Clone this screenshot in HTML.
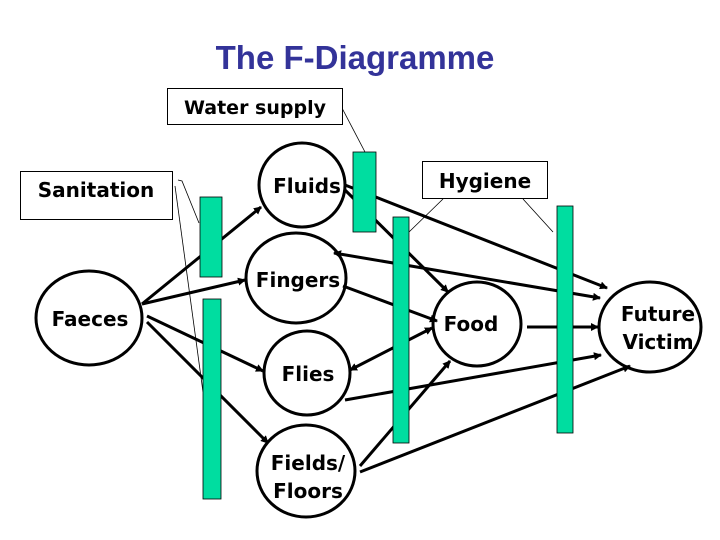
<!DOCTYPE html>
<html><head><meta charset="utf-8"><style>
html,body{margin:0;padding:0;background:#fff;}
svg{display:block;}
text{font-family:"DejaVu Sans","Liberation Sans",sans-serif;font-weight:bold;}
</style></head><body>
<svg width="720" height="540" viewBox="0 0 720 540" xmlns="http://www.w3.org/2000/svg">
<defs>
<marker id="a" markerWidth="8" markerHeight="8" refX="7" refY="4" orient="auto" markerUnits="userSpaceOnUse">
<path d="M0,0 L8,4 L0,8 z" fill="#000"/></marker>
<marker id="b" markerWidth="8" markerHeight="8" refX="1" refY="4" orient="auto" markerUnits="userSpaceOnUse">
<path d="M8,0 L0,4 L8,8 z" fill="#000"/></marker>
</defs>
<text x="355" y="69" text-anchor="middle" font-size="33" fill="#333399" style="font-family:'Liberation Sans',sans-serif">The F-Diagramme</text>

<!-- thin lines -->
<g stroke="#000" stroke-width="0.8" fill="none">
<line x1="342" y1="108" x2="365" y2="152"/>
<polyline points="178,180 182,181 199,223"/>
<line x1="175" y1="186" x2="203" y2="392"/>
<line x1="443" y1="199" x2="409" y2="232"/>
<line x1="523" y1="199" x2="553" y2="232"/>
</g>

<!-- boxes -->
<g fill="#fff" stroke="#000" stroke-width="1">
<rect x="167.5" y="88.5" width="175" height="36"/>
<rect x="20.5" y="171.5" width="152" height="48"/>
<rect x="422.5" y="161.5" width="125" height="37"/>
</g>
<text x="255" y="114" text-anchor="middle" font-size="19">Water supply</text>
<text x="96" y="197" text-anchor="middle" font-size="20">Sanitation</text>
<text x="485" y="188" text-anchor="middle" font-size="20">Hygiene</text>

<!-- arrows -->
<g stroke="#000" stroke-width="3" fill="none">
<line x1="142" y1="304" x2="261" y2="207" marker-end="url(#a)"/>
<line x1="142" y1="304" x2="245" y2="280" marker-end="url(#a)"/>
<line x1="147" y1="316" x2="263" y2="371" marker-end="url(#a)"/>
<line x1="147" y1="322" x2="268" y2="443" marker-end="url(#a)"/>
<line x1="345" y1="190" x2="448" y2="292" marker-end="url(#a)"/>
<line x1="345" y1="185" x2="607" y2="288" marker-end="url(#a)"/>
<line x1="334" y1="253" x2="600" y2="298" marker-start="url(#b)" marker-end="url(#a)"/>
<line x1="343" y1="286" x2="437" y2="321" marker-end="url(#a)"/>
<line x1="350" y1="370" x2="432" y2="328" marker-start="url(#b)" marker-end="url(#a)"/>
<line x1="345" y1="400" x2="601" y2="355" marker-end="url(#a)"/>
<line x1="360" y1="466" x2="450" y2="361" marker-end="url(#a)"/>
<line x1="360" y1="472" x2="630" y2="366" marker-end="url(#a)"/>
<line x1="527" y1="327" x2="598" y2="327" marker-end="url(#a)"/>
</g>

<!-- green bars -->
<g fill="#00DDA0" stroke="#000" stroke-width="0.8">
<rect x="200" y="197" width="22" height="80"/>
<rect x="203" y="299" width="18" height="200"/>
<rect x="353" y="152" width="23" height="80"/>
<rect x="393" y="217" width="16" height="226"/>
<rect x="557" y="206" width="16" height="227"/>
</g>

<!-- circles -->
<g fill="none" stroke="#000" stroke-width="3">
<ellipse cx="302" cy="185" rx="43" ry="42"/>
<ellipse cx="296" cy="278" rx="50" ry="45"/>
<ellipse cx="89" cy="318" rx="53" ry="47"/>
<ellipse cx="307" cy="373" rx="43" ry="42"/>
<ellipse cx="306" cy="471" rx="49" ry="46"/>
<ellipse cx="477" cy="324" rx="44" ry="42"/>
<ellipse cx="650" cy="327" rx="51" ry="45"/>
</g>
<g font-size="20" fill="#000">
<text x="307" y="193" text-anchor="middle">Fluids</text>
<text x="298" y="287" text-anchor="middle">Fingers</text>
<text x="90" y="326" text-anchor="middle">Faeces</text>
<text x="308" y="381" text-anchor="middle">Flies</text>
<text x="308" y="470" text-anchor="middle">Fields/</text>
<text x="308" y="498" text-anchor="middle">Floors</text>
<text x="471" y="331" text-anchor="middle">Food</text>
<text x="658" y="321" text-anchor="middle">Future</text>
<text x="658" y="349" text-anchor="middle">Victim</text>
</g>
</svg>
</body></html>
